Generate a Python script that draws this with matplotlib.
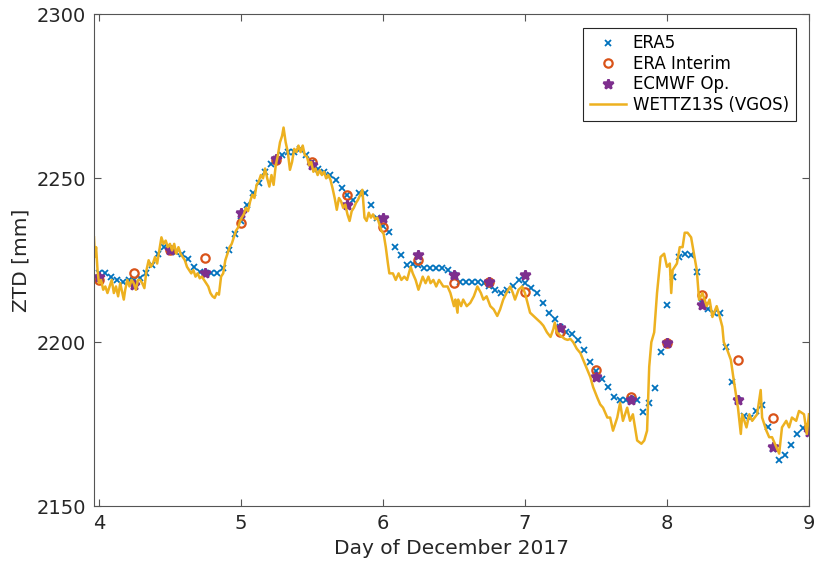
import numpy as np
import matplotlib
matplotlib.use("Agg")
import matplotlib.pyplot as plt

# ERA5, hourly from 4 Dec 00h
era5_start = 4.0
era5_ztd = [
    2221, 2221, 2220, 2219, 2218.5, 2219, 2219, 2219.5, 2221, 2223.5,
    2227, 2229, 2228.5, 2227.5, 2227, 2225.5, 2223, 2221.5, 2221, 2221,
    2221, 2222.5, 2228, 2233, 2237, 2242, 2245.5, 2248.5, 2252, 2254.5,
    2256, 2257, 2258, 2258, 2259, 2257, 2255, 2253, 2252, 2251,
    2249.5, 2247, 2245, 2243.5, 2245.5, 2245.5, 2242, 2238, 2235.5, 2233.5,
    2229, 2226.5, 2223.5, 2224, 2223.5, 2222.5, 2222.5, 2222.5, 2222.5, 2222,
    2220.5, 2218.5, 2218.3, 2218.3, 2218.3, 2218, 2217, 2216, 2215, 2216,
    2217, 2219, 2218, 2216.5, 2215, 2212, 2209, 2207, 2204.5, 2203.2,
    2202.5, 2200.7, 2197.5, 2194, 2191.2, 2188.7, 2186.2, 2183.3, 2182.4, 2182.4,
    2182.6, 2182.4, 2178.7, 2181.3, 2186, 2197, 2211.4, 2220, 2226, 2227,
    2226.7, 2221.5, 2212, 2210, 2209, 2209, 2198.6, 2188, 2182.4, 2177.5,
    2177, 2179, 2180.8, 2174, 2167.5, 2164, 2165.5, 2168.6, 2172, 2173.8,
    2174,
]

# ERA Interim and ECMWF operational, 6-hourly
six_hour_days = [4.0, 4.25, 4.5, 4.75, 5.0, 5.25, 5.5, 5.75, 6.0, 6.25, 6.5,
                 6.75, 7.0, 7.25, 7.5, 7.75, 8.0, 8.25, 8.5, 8.75, 9.0]
interim_ztd = [2219, 2221, 2228, 2225.7, 2236.5, 2255.7, 2255, 2245, 2235, 2225,
               2218, 2218.5, 2215.4, 2203, 2191.5, 2183.3, 2199.8, 2214.5,
               2194.6, 2177, 2174]
ecmwf_ztd = [2220, 2217.5, 2228, 2221, 2239.5, 2256, 2254, 2242, 2238, 2226.7,
             2220.6, 2218.5, 2220.6, 2204.4, 2189.4, 2182.4, 2199.8, 2211.4,
             2182.4, 2168, 2172.6]

# WETTZ13S (VGOS) estimates
vgos_days = [
    3.965, 3.972, 3.98, 3.99, 4.0, 4.015, 4.03, 4.045, 4.06, 4.075,
    4.09, 4.105, 4.12, 4.135, 4.15, 4.165, 4.175, 4.185, 4.2, 4.215,
    4.23, 4.245, 4.26, 4.275, 4.29, 4.305, 4.32, 4.335, 4.35, 4.365,
    4.38, 4.395, 4.41, 4.425, 4.44, 4.455, 4.47, 4.485, 4.5, 4.515,
    4.53, 4.545, 4.56, 4.575, 4.59, 4.605, 4.62, 4.635, 4.65, 4.665,
    4.68, 4.695, 4.71, 4.725, 4.74, 4.755, 4.77, 4.785, 4.8, 4.815,
    4.83, 4.845, 4.86, 4.875, 4.89, 4.905, 4.92, 4.935, 4.95, 4.965,
    4.98, 4.995,
    5.005, 5.02, 5.035, 5.05, 5.065, 5.08, 5.095, 5.11, 5.125, 5.14,
    5.155, 5.17, 5.185, 5.2, 5.215, 5.23, 5.245, 5.26, 5.275, 5.29,
    5.3, 5.315, 5.33, 5.345, 5.36, 5.375, 5.39, 5.405, 5.42, 5.435,
    5.45, 5.465, 5.48, 5.495, 5.51, 5.525, 5.54, 5.555, 5.57, 5.585,
    5.6, 5.615, 5.63, 5.645, 5.66, 5.675, 5.69, 5.705, 5.72, 5.735,
    5.75, 5.765, 5.78, 5.795, 5.81, 5.825, 5.84, 5.855, 5.87, 5.885,
    5.9, 5.915, 5.93, 5.945, 5.96, 5.975, 5.99, 6.005, 6.02, 6.035,
    6.045,
    6.07, 6.09, 6.11, 6.13, 6.15, 6.17, 6.195, 6.21, 6.23, 6.25,
    6.28, 6.3, 6.32, 6.335, 6.355, 6.375, 6.395, 6.41, 6.425, 6.455,
    6.475, 6.5, 6.51, 6.525, 6.53, 6.55, 6.565, 6.59, 6.615, 6.64,
    6.665, 6.69, 6.707, 6.73, 6.756, 6.78, 6.805, 6.825, 6.847, 6.87,
    6.896, 6.915, 6.93, 6.955, 6.98, 7.0, 7.018, 7.036, 7.06, 7.085,
    7.11, 7.13, 7.155, 7.18, 7.2, 7.21, 7.225, 7.25, 7.28, 7.3,
    7.32, 7.34, 7.365, 7.39, 7.41, 7.435, 7.46, 7.48, 7.51, 7.53,
    7.55, 7.58, 7.6, 7.62, 7.65, 7.67, 7.69, 7.72, 7.74, 7.76,
    7.79, 7.82, 7.84, 7.86, 7.875, 7.89, 7.91, 7.93, 7.955, 7.98,
    8.0, 8.02, 8.03, 8.04, 8.07, 8.09, 8.11, 8.125, 8.145, 8.17,
    8.19, 8.21, 8.226, 8.25, 8.28, 8.3, 8.32, 8.35, 8.37, 8.39,
    8.4, 8.425, 8.45, 8.47, 8.5, 8.52, 8.53, 8.56, 8.58, 8.6,
    8.635, 8.66, 8.67, 8.7, 8.72, 8.74, 8.77, 8.79, 8.81, 8.84,
    8.86, 8.88, 8.91, 8.93, 8.965, 8.985, 9.0,
]
vgos_ztd = [
    2232, 2226, 2229, 2222, 2218, 2219, 2216, 2217, 2215, 2217,
    2219, 2215, 2217, 2214, 2218, 2215, 2213, 2216, 2219, 2217,
    2219, 2218, 2216, 2219, 2219, 2218, 2216.5, 2222, 2225, 2223,
    2224, 2226, 2224, 2228, 2232, 2230, 2231, 2229, 2230, 2228,
    2230, 2227, 2229, 2227, 2226, 2225, 2223, 2222, 2221, 2222,
    2220, 2221, 2219.5, 2220, 2219, 2218, 2217, 2215, 2214, 2213.5,
    2215, 2214.5, 2220, 2221, 2225, 2227, 2229, 2230, 2232, 2234,
    2235, 2237,
    2238, 2239, 2241, 2240, 2243, 2245, 2244, 2248, 2249, 2251,
    2250, 2253, 2250, 2247.5, 2251, 2248, 2254, 2257, 2261, 2263,
    2265.5, 2261, 2258, 2252.6, 2255, 2259, 2258, 2260, 2258, 2260,
    2257, 2256.6, 2254, 2255, 2252, 2253, 2251, 2252.5, 2251, 2252,
    2250, 2251, 2249.6, 2247, 2244, 2240.4, 2244, 2243, 2241, 2242,
    2239, 2237, 2240, 2241, 2242.5, 2243.5, 2245, 2246.5, 2238, 2237,
    2239.5, 2238, 2239, 2237.5, 2238, 2236, 2234, 2233, 2229, 2224,
    2221,
    2221, 2219, 2221, 2219, 2220, 2219, 2223, 2221, 2219, 2216,
    2220, 2218, 2220, 2218, 2219, 2217, 2219, 2218, 2217, 2217,
    2215, 2211, 2213, 2209, 2213, 2211, 2213, 2211, 2212, 2214,
    2217, 2215, 2213, 2214, 2211, 2210, 2208, 2210, 2213, 2215,
    2217, 2215, 2213, 2216, 2217, 2215, 2212, 2209, 2208, 2207,
    2206, 2205, 2203, 2201.6, 2204, 2206, 2203, 2202, 2201, 2200.7,
    2201, 2200, 2198, 2196.7, 2194.6, 2192, 2189.4, 2186.3, 2183, 2181,
    2180, 2177, 2177, 2173, 2177, 2181.5, 2176, 2180, 2176, 2178,
    2170, 2169, 2170, 2173, 2192.5, 2200, 2203, 2215, 2226, 2227,
    2223, 2224, 2215, 2222, 2224, 2229, 2229, 2233.4, 2233.4, 2232,
    2227, 2222, 2213, 2215, 2211, 2213, 2207.7, 2211, 2208, 2204.7,
    2200, 2197.6, 2194.6, 2188.5, 2180, 2172, 2178, 2174, 2178, 2176,
    2178, 2185.4, 2177, 2173, 2171, 2171, 2168, 2166, 2174, 2176,
    2174, 2177, 2176, 2179, 2178, 2172, 2178,
]

era5_days = era5_start + np.arange(len(era5_ztd)) / 24.0

fig = plt.figure(figsize=(8.15, 5.64), dpi=100)
ax = fig.add_axes([0.1153, 0.1028, 0.8773, 0.8715])

ax.plot(era5_days, era5_ztd, "x", color="#0072BD", ms=4.5, mew=1.3, label="ERA5")
ax.plot(six_hour_days, interim_ztd, "o", color="#D95319", mfc="none",
        ms=6, mew=1.6, label="ERA Interim")
ax.plot(six_hour_days, ecmwf_ztd, "*", color="#7E2F8E", ms=7, mew=1.8,
        label="ECMWF Op.")
ax.plot(vgos_days, vgos_ztd, "-", color="#EDB120", lw=1.8,
        label="WETTZ13S (VGOS)")

ax.set_xlim(3.965, 9.0)
ax.set_ylim(2150, 2300)
ax.set_xticks([4, 5, 6, 7, 8, 9])
ax.set_yticks([2150, 2200, 2250, 2300])
ax.tick_params(direction="in", top=True, right=True, labelsize=14,
               labelcolor="#262626", color="#555555", length=5)
ax.tick_params(axis="x", pad=6)
ax.tick_params(axis="y", pad=6)
for s in ax.spines.values():
    s.set_color("#555555")
ax.set_xlabel("Day of December 2017", fontsize=14.5, color="#262626", labelpad=4)
ax.set_ylabel("ZTD [mm]", fontsize=14.5, color="#262626", labelpad=4)

leg = ax.legend(loc="upper right", fontsize=12, fancybox=False,
                edgecolor="#262626", framealpha=1, handlelength=2.2,
                handletextpad=0.4, borderpad=0.4, borderaxespad=0.8,
                labelspacing=0.15)
leg.get_frame().set_linewidth(0.8)

fig.savefig("out.png", dpi=100)
